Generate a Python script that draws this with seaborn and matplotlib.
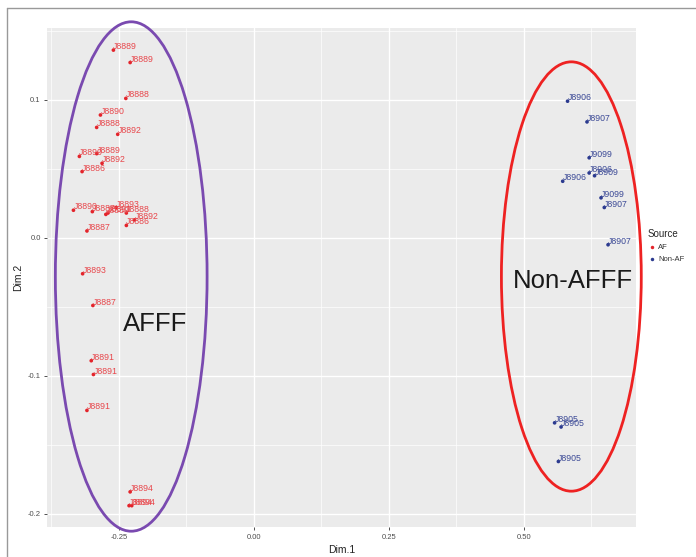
import matplotlib
matplotlib.use("Agg")
import matplotlib.pyplot as plt
from matplotlib.patches import Ellipse
from matplotlib.lines import Line2D
import seaborn as sns
import pandas as pd
import numpy as np

# ---- data ----
af_labels = ["J8889", "J8889", "J8888", "J8890", "J8888", "J8892", "J8890", "J8889",
             "J8892", "J8886", "J8890", "J8887", "J8889", "J8891", "J8893", "J8888",
             "J8892", "J8886", "J8887", "J8893", "J8887", "J8891", "J8891", "J8891",
             "J8894", "J8894", "J8894"]
af_x = [-0.260, -0.229, -0.237, -0.284, -0.291, -0.252, -0.323, -0.291,
        -0.281, -0.318, -0.334, -0.299, -0.274, -0.270, -0.255, -0.236,
        -0.221, -0.236, -0.309, -0.317, -0.298, -0.301, -0.297, -0.309,
        -0.229, -0.231, -0.226]
af_y = [0.136, 0.127, 0.101, 0.089, 0.080, 0.075, 0.059, 0.061,
        0.054, 0.048, 0.020, 0.019, 0.017, 0.018, 0.022, 0.018,
        0.013, 0.009, 0.005, -0.026, -0.049, -0.089, -0.099, -0.125,
        -0.184, -0.194, -0.194]

naf_labels = ["J8906", "J8907", "J9099", "J8906", "J8909", "J8906", "J9099", "J8907",
              "J8907", "J8905", "J8905", "J8905"]
naf_x = [0.581, 0.617, 0.621, 0.621, 0.631, 0.572, 0.643, 0.649, 0.656, 0.557, 0.569, 0.564]
naf_y = [0.099, 0.084, 0.058, 0.047, 0.045, 0.041, 0.029, 0.022, -0.005, -0.134, -0.137, -0.162]

sources = ["AF", "Non-AF"]
x_ticks = [-0.25, 0.00, 0.25, 0.50]
x_ticklabels = ["-0.25", "0.00", "0.25", "0.50"]
y_ticks = [-0.2, -0.1, 0.0, 0.1]
y_ticklabels = ["-0.2", "-0.1", "0.0", "0.1"]

df = pd.DataFrame({
    "Dim.1": af_x + naf_x,
    "Dim.2": af_y + naf_y,
    "label": af_labels + naf_labels,
    "Source": [sources[0]] * len(af_x) + [sources[1]] * len(naf_x),
})

pt_colors = {"AF": "#E3242B", "Non-AF": "#2B3A8F"}
txt_colors = {"AF": "#E8474C", "Non-AF": "#3C4A96"}

sns.set_theme(style="darkgrid", rc={
    "axes.facecolor": "#EBEBEB",
    "grid.color": "white",
    "axes.edgecolor": "#EBEBEB",
})
plt.rcParams["font.family"] = ["Liberation Sans", "DejaVu Sans"]

fig = plt.figure(figsize=(6.96, 5.57), dpi=100)
ax = fig.add_axes([0.0675, 0.053, 0.8465, 0.8967])

sns.scatterplot(data=df, x="Dim.1", y="Dim.2", hue="Source", palette=pt_colors,
                s=7, linewidth=0, ax=ax, legend=False, zorder=3)

for _, r in df.iterrows():
    ax.text(r["Dim.1"], r["Dim.2"] + 0.0025, r["label"], fontsize=6.3,
            color=txt_colors[r["Source"]], ha="left", va="center", zorder=4)

ax.set_xlim(-0.383, 0.708)
ax.set_ylim(-0.2098, 0.152)
ax.set_xticks(x_ticks)
ax.set_xticklabels(x_ticklabels)
ax.set_yticks(y_ticks)
ax.set_yticklabels(y_ticklabels)
ax.set_xticks([-0.375, -0.125, 0.125, 0.375, 0.625], minor=True)
ax.set_yticks([-0.15, -0.05, 0.05, 0.15], minor=True)
ax.grid(which="major", color="white", linewidth=1.0)
ax.grid(which="minor", color="white", linewidth=0.5)
ax.tick_params(axis="both", which="major", labelsize=5.5, labelcolor="#4D4D4D",
               length=2.5, width=0.6, color="#333333", pad=2, bottom=True, left=True)
ax.tick_params(which="minor", length=0)
for s in ax.spines.values():
    s.set_visible(False)
ax.set_xlabel("Dim.1", fontsize=7.5, color="#222222", labelpad=3)
ax.set_ylabel("Dim.2", fontsize=7.5, color="#222222", labelpad=3)

# annotation ellipses
ax.add_patch(Ellipse((-0.227, -0.028), 0.281, 0.369, fill=False, edgecolor="#7A4AB0",
                     linewidth=2.0, clip_on=False, zorder=5))
ax.add_patch(Ellipse((0.588, -0.028), 0.259, 0.311, fill=False, edgecolor="#EE2222",
                     linewidth=2.0, clip_on=False, zorder=5))
ax.text(-0.1833, -0.0672, "AFFF", fontsize=18.5, color="#1A1A1A", ha="center",
        va="baseline", zorder=6)
ax.text(0.591, -0.0362, "Non-AFFF", fontsize=18.5, color="#1A1A1A", ha="center",
        va="baseline", zorder=6)

# legend
handles = [Line2D([0], [0], marker="o", linestyle="", markersize=2.5,
                  markerfacecolor=pt_colors[s], markeredgewidth=0) for s in sources]
leg = fig.legend(handles, sources, title="Source", loc="upper left",
                 bbox_to_anchor=(0.925, 0.595), frameon=False, fontsize=5.5,
                 title_fontsize=7, handletextpad=0.2, labelspacing=0.6,
                 handlelength=1.2, borderpad=0)
leg._legend_box.align = "left"
for t in leg.get_texts():
    t.set_color("#333333")

# outer frame lines
fig.add_artist(Line2D([7 / 696, 1], [1 - 8 / 557, 1 - 8 / 557], color="#999999", linewidth=1.0))
fig.add_artist(Line2D([7 / 696, 7 / 696], [0, 1 - 8 / 557], color="#999999", linewidth=1.0))

fig.savefig("out.png", dpi=100)
